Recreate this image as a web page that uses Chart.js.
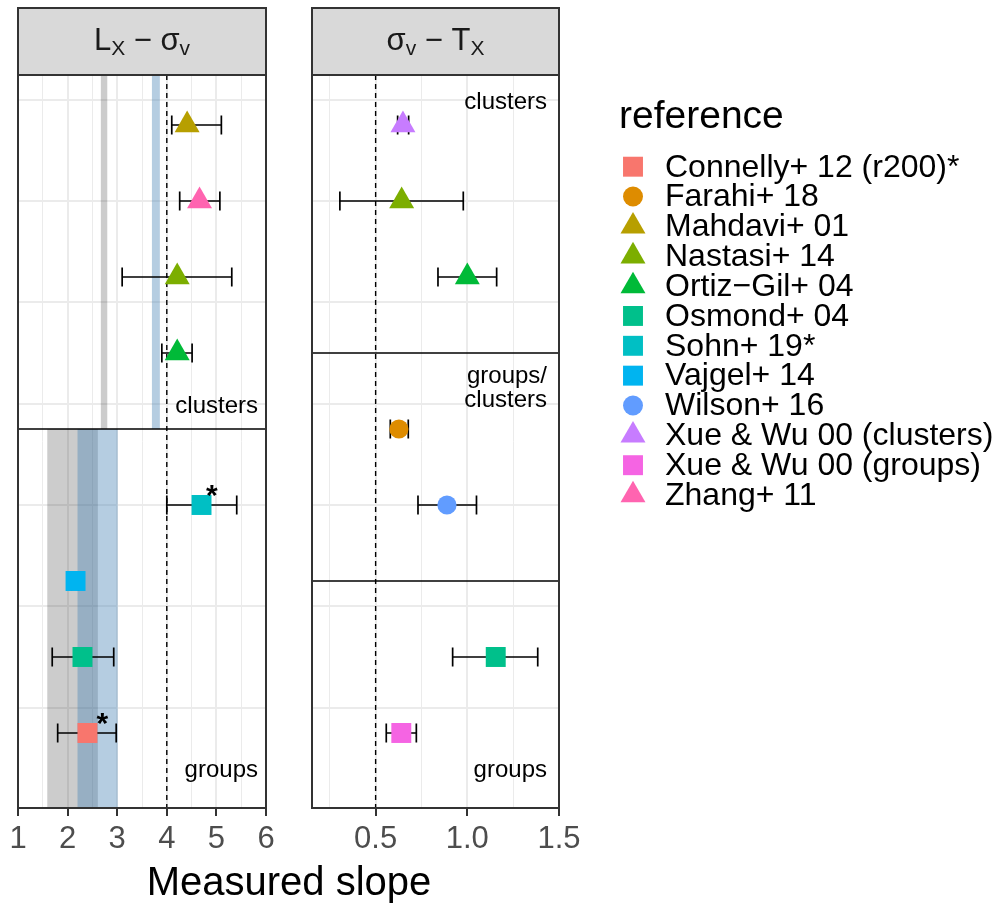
<!DOCTYPE html>
<html>
<head>
<meta charset="utf-8">
<script src="https://cdn.jsdelivr.net/npm/chart.js@4.4.1/dist/chart.umd.min.js"></script>
<style>
html,body{margin:0;padding:0;background:#fff;}
#wrap{position:relative;width:1008px;height:903px;overflow:hidden;background:#fff;}
canvas{position:absolute;left:0;top:0;}
</style>
</head>
<body>
<div id="wrap">
<canvas id="cA" width="1008" height="903"></canvas>
<canvas id="cB" width="1008" height="903"></canvas>
</div>
<script>
const FONT = '"Liberation Sans", Arial, Helvetica, sans-serif';

// ---- legend categories ----
const references = ['Connelly+ 12 (r200)*','Farahi+ 18','Mahdavi+ 01','Nastasi+ 14','Ortiz\u2212Gil+ 04','Osmond+ 04','Sohn+ 19*','Vajgel+ 14','Wilson+ 16','Xue & Wu 00 (clusters)','Xue & Wu 00 (groups)','Zhang+ 11'];
const refColors = ['#F8766D','#DE8C00','#B79F00','#7CAE00','#00BA38','#00C08B','#00BFC4','#00B4F0','#619CFF','#C77CFF','#F564E3','#FF64B0'];
const refShapes = ['rect','circle','triangle','triangle','triangle','rect','rect','rect','circle','triangle','rect','triangle'];

// ---- panel 1: L_X - sigma_v ----
const lxRef   = ['Mahdavi+ 01','Zhang+ 11','Nastasi+ 14','Ortiz\u2212Gil+ 04','Sohn+ 19*','Vajgel+ 14','Osmond+ 04','Connelly+ 12 (r200)*'];
const lxRow   = [0, 1, 2, 3, 5, 6, 7, 8];
const lxSlope = [4.41, 4.66, 4.21, 4.21, 4.70, 2.16, 2.30, 2.40];
const lxLo    = [4.10, 4.26, 3.10, 3.90, 4.00, 2.08, 1.69, 1.80];
const lxHi    = [5.10, 5.07, 5.31, 4.51, 5.41, 2.22, 2.93, 2.98];
const lxStarRow = [5, 8];
const lxStarX   = [4.91, 2.70];
const lxExpected = 4;
const lxBandKind = ['gray','blue','gray','blue'];
const lxBandLo   = [2.67, 3.70, 1.59, 2.20];
const lxBandHi   = [2.80, 3.86, 2.61, 3.01];
const lxBandRowFrom = [-1, -1, 4, 4];
const lxBandRowTo   = [4, 4, 10, 10];
const lxBreaks = [4];
const lxXTicks = [1,1.5,2,2.5,3,3.5,4,4.5,5,5.5,6];
const lxXMajor = [1,2,3,4,5,6];

// ---- panel 2: sigma_v - T_X ----
const svRef   = ['Xue & Wu 00 (clusters)','Nastasi+ 14','Ortiz\u2212Gil+ 04','Farahi+ 18','Wilson+ 16','Osmond+ 04','Xue & Wu 00 (groups)'];
const svRow   = [0, 1, 2, 4, 5, 7, 8];
const svSlope = [0.649, 0.642, 1.00, 0.627, 0.889, 1.155, 0.640];
const svLo    = [0.620, 0.305, 0.840, 0.580, 0.731, 0.920, 0.558];
const svHi    = [0.680, 0.978, 1.160, 0.678, 1.050, 1.384, 0.722];
const svExpected = 0.5;
const svBreaks = [3, 6];
const svXTicks = [0.25,0.5,0.75,1.0,1.25,1.5];
const svXMajor = [0.5,1.0,1.5];

const yGrid = [-1/3, 1, 7/3, 11/3, 5, 19/3, 23/3];

function refIdx(r){ return references.indexOf(r); }
function radiusFor(shape){ return shape==='circle' ? 9.6 : (shape==='triangle' ? 14.4 : 14.1); }

function drawRich(ctx, parts, cx, baseY){
  let total = 0;
  parts.forEach(p=>{ ctx.font = (p.sub?'21px ':'31px ')+FONT; p.w = ctx.measureText(p.t).width; total += p.w; });
  let x = cx - total/2;
  ctx.fillStyle = '#1A1A1A'; ctx.textAlign='left'; ctx.textBaseline='alphabetic';
  parts.forEach(p=>{ ctx.font = (p.sub?'21px ':'31px ')+FONT; ctx.fillText(p.t, x, baseY + (p.sub?5:0)); x += p.w; });
}

function panelPlugin(cfg){
  return {
    id: 'panel_'+cfg.name,
    beforeDatasetsDraw(chart){
      const ctx = chart.ctx, a = chart.chartArea, xs = chart.scales.x, ys = chart.scales.y;
      ctx.save();
      ctx.beginPath(); ctx.rect(a.left, a.top, a.right-a.left, a.bottom-a.top); ctx.clip();
      // bands
      (cfg.bandKind||[]).forEach((k,i)=>{
        const x1 = xs.getPixelForValue(cfg.bandLo[i]), x2 = xs.getPixelForValue(cfg.bandHi[i]);
        const y1 = ys.getPixelForValue(cfg.bandFrom[i]), y2 = ys.getPixelForValue(cfg.bandTo[i]);
        ctx.fillStyle = k==='gray' ? 'rgba(0,0,0,0.2)' : 'rgba(70,130,180,0.4)';
        ctx.fillRect(x1, Math.min(y1,y2), x2-x1, Math.abs(y2-y1));
      });
      // section separators
      ctx.strokeStyle = '#000'; ctx.lineWidth = 1.4; ctx.setLineDash([]);
      cfg.breaks.forEach(b=>{
        const y = ys.getPixelForValue(b);
        ctx.beginPath(); ctx.moveTo(a.left, y); ctx.lineTo(a.right, y); ctx.stroke();
      });
      // expected slope dashed line
      const ex = xs.getPixelForValue(cfg.expected);
      ctx.setLineDash([5,4]); ctx.lineWidth = 1.4;
      ctx.beginPath(); ctx.moveTo(ex, a.top); ctx.lineTo(ex, a.bottom); ctx.stroke();
      ctx.setLineDash([]);
      // error bars
      ctx.lineWidth = 1.7; ctx.strokeStyle = '#000';
      cfg.row.forEach((r,i)=>{
        const y = ys.getPixelForValue(r);
        const x1 = xs.getPixelForValue(cfg.lo[i]), x2 = xs.getPixelForValue(cfg.hi[i]);
        ctx.beginPath();
        ctx.moveTo(x1, y); ctx.lineTo(x2, y);
        ctx.moveTo(x1, y-9.5); ctx.lineTo(x1, y+9.5);
        ctx.moveTo(x2, y-9.5); ctx.lineTo(x2, y+9.5);
        ctx.stroke();
      });
      ctx.restore();
    },
    afterDraw(chart){
      const ctx = chart.ctx, a = chart.chartArea, xs = chart.scales.x, ys = chart.scales.y;
      ctx.save();
      // asterisks
      ctx.fillStyle = '#000'; ctx.font = 'bold 30px '+FONT; ctx.textAlign='center'; ctx.textBaseline='alphabetic';
      (cfg.starRow||[]).forEach((r,i)=>{
        ctx.fillText('*', xs.getPixelForValue(cfg.starX[i]), ys.getPixelForValue(r));
      });
      // section labels
      ctx.font = '24px '+FONT; ctx.textAlign='right'; ctx.fillStyle='#000';
      cfg.labels.forEach(l=>{
        ctx.fillText(l.t, a.right - cfg.labelInset, ys.getPixelForValue(l.row));
      });
      // panel border
      ctx.strokeStyle = '#333333'; ctx.lineWidth = 2;
      ctx.strokeRect(a.left, a.top, a.right-a.left, a.bottom-a.top);
      // strip
      ctx.fillStyle = '#D9D9D9';
      ctx.fillRect(a.left, 8, a.right-a.left, a.top-8);
      ctx.strokeRect(a.left, 8, a.right-a.left, a.top-8);
      drawRich(ctx, cfg.strip, (a.left+a.right)/2, 50);
      ctx.restore();
      if (cfg.extra) cfg.extra(chart);
    }
  };
}

function drawLegendAndTitle(chart){
  const ctx = chart.ctx;
  ctx.save();
  ctx.fillStyle = '#000';
  ctx.font = '39px '+FONT; ctx.textAlign='left'; ctx.textBaseline='alphabetic';
  ctx.fillText('reference', 619, 128);
  references.forEach((r,i)=>{
    const y = 166.7 + 29.85*i;
    ctx.fillStyle = refColors[i];
    Chart.helpers.drawPoint(ctx, {pointStyle: refShapes[i], radius: refShapes[i]==='circle'?10:radiusFor(refShapes[i]), rotation:0, borderWidth:0}, 633, y);
    ctx.fillStyle = '#000';
    ctx.font = '32px '+FONT; ctx.textBaseline='middle';
    ctx.fillText(r, 665, y + 1);
  });
  ctx.font = '40px '+FONT; ctx.textAlign='center'; ctx.textBaseline='alphabetic';
  ctx.fillText('Measured slope', 289, 895);
  ctx.restore();
}

function makeChart(canvasId, cfg){
  const data = cfg.row.map((r,i)=>({x: cfg.slope[i], y: r}));
  const shapes = cfg.ref.map(r=>refShapes[refIdx(r)]);
  return new Chart(document.getElementById(canvasId), {
    type: 'scatter',
    data: { datasets: [{
      data: data,
      pointStyle: shapes,
      pointRadius: shapes.map(radiusFor),
      pointHoverRadius: shapes.map(radiusFor),
      pointBackgroundColor: cfg.ref.map(r=>refColors[refIdx(r)]),
      pointBorderWidth: 0,
      showLine: false
    }]},
    options: {
      responsive: false, animation: false, devicePixelRatio: 1,
      layout: { padding: cfg.padding },
      plugins: { legend: {display:false}, tooltip: {enabled:false} },
      events: [],
      scales: {
        x: {
          type: 'linear', position: 'bottom', min: cfg.xmin, max: cfg.xmax,
          afterBuildTicks: s => { s.ticks = cfg.xticks.map(v=>({value:v})); },
          afterFit: s => { s.height = 95; },
          border: {display:false},
          grid: {
            color: '#EBEBEB',
            lineWidth: c => (c.tick && cfg.xmajor.includes(c.tick.value)) ? 2 : 1,
            tickLength: 8, tickWidth: 2,
            tickColor: c => (c.tick && cfg.xmajor.includes(c.tick.value)) ? '#333333' : 'rgba(0,0,0,0)'
          },
          ticks: {
            autoSkip: false, maxRotation: 0, minRotation: 0, padding: 5,
            color: '#4D4D4D', font: {family: FONT, size: 31},
            callback: v => cfg.xmajor.includes(v) ? cfg.fmt(v) : ''
          }
        },
        y: {
          type: 'linear', position: 'left', reverse: true, min: -0.658, max: 8.987,
          afterBuildTicks: s => { s.ticks = yGrid.map(v=>({value:v})); },
          afterFit: s => { s.width = 0; },
          border: {display:false},
          grid: { color: '#EBEBEB', lineWidth: 2, drawTicks: false },
          ticks: { display: false }
        }
      }
    },
    plugins: [panelPlugin(cfg)]
  });
}

makeChart('cA', {
  name: 'lx', ref: lxRef, row: lxRow, slope: lxSlope, lo: lxLo, hi: lxHi,
  starRow: lxStarRow, starX: lxStarX, expected: lxExpected,
  bandKind: lxBandKind, bandLo: lxBandLo, bandHi: lxBandHi, bandFrom: lxBandRowFrom, bandTo: lxBandRowTo,
  breaks: lxBreaks, xmin: 1, xmax: 6, xticks: lxXTicks, xmajor: lxXMajor, fmt: v => String(v),
  padding: {left: 18, right: 1008-266, top: 75, bottom: 0},
  labelInset: 8,
  labels: [{t:'clusters', row: 3.79}, {t:'groups', row: 8.58}],
  strip: [{t:'L'},{t:'X',sub:true},{t:' \u2212 '},{t:'\u03C3'},{t:'v',sub:true}]
});

makeChart('cB', {
  name: 'sv', ref: svRef, row: svRow, slope: svSlope, lo: svLo, hi: svHi,
  starRow: [], starX: [], expected: svExpected,
  breaks: svBreaks, xmin: 0.153, xmax: 1.5, xticks: svXTicks, xmajor: svXMajor, fmt: v => v.toFixed(1),
  padding: {left: 312, right: 1008-559, top: 75, bottom: 0},
  labelInset: 12,
  labels: [{t:'clusters', row: -0.21}, {t:'groups/', row: 3.39}, {t:'clusters', row: 3.71}, {t:'groups', row: 8.58}],
  strip: [{t:'\u03C3'},{t:'v',sub:true},{t:' \u2212 '},{t:'T'},{t:'X',sub:true}],
  extra: drawLegendAndTitle
});
</script>
</body>
</html>
